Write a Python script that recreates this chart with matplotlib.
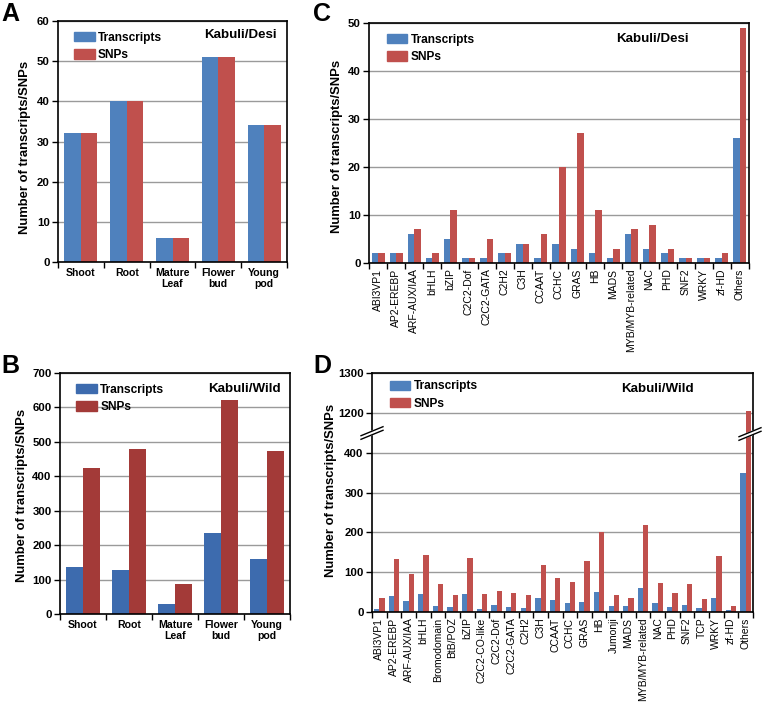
import matplotlib.pyplot as plt
import numpy as np
from matplotlib.lines import Line2D
from matplotlib.patches import Polygon

plt.rcParams['font.family'] = ['Liberation Sans', 'DejaVu Sans']

# panel A / B: tissues
tissues = ["Shoot", "Root", "Mature\nLeaf", "Flower\nbud", "Young\npod"]
desi_tr = [32, 40, 6, 51, 34]
desi_snp = [32, 40, 6, 51, 34]
wild_tr = [137, 127, 28, 236, 159]
wild_snp = [423, 480, 88, 622, 473]

# panel C: TF families Kabuli/Desi
fam_c = ["ABI3VP1", "AP2-EREBP", "ARF-AUX/IAA", "bHLH", "bZIP", "C2C2-Dof",
         "C2C2-GATA", "C2H2", "C3H", "CCAAT", "CCHC", "GRAS", "HB", "MADS",
         "MYB/MYB-related", "NAC", "PHD", "SNF2", "WRKY", "zf-HD", "Others"]
fam_c_tr = [2, 2, 6, 1, 5, 1, 1, 2, 4, 1, 4, 3, 2, 1, 6, 3, 2, 1, 1, 1, 26]
fam_c_snp = [2, 2, 7, 2, 11, 1, 5, 2, 4, 6, 20, 27, 11, 3, 7, 8, 3, 1, 1, 2, 49]

# panel D: TF families Kabuli/Wild
fam_d = ["ABI3VP1", "AP2-EREBP", "ARF-AUX/IAA", "bHLH", "Bromodomain", "BtB/POZ",
         "bZIP", "C2C2-CO-like", "C2C2-Dof", "C2C2-GATA", "C2H2", "C3H", "CCAAT",
         "CCHC", "GRAS", "HB", "Jumonji", "MADS", "MYB/MYB-related", "NAC", "PHD",
         "SNF2", "TCP", "WRKY", "zf-HD", "Others"]
fam_d_tr = [8, 39, 28, 45, 14, 12, 44, 8, 18, 12, 10, 34, 29, 22, 25, 50, 14, 14,
            61, 23, 12, 17, 10, 35, 5, 349]
fam_d_snp = [35, 134, 96, 144, 70, 42, 135, 44, 52, 48, 42, 117, 85, 76, 128, 200,
             43, 35, 219, 74, 49, 71, 32, 142, 14, 1204]

BLUE, RED = "#4F81BD", "#C0504D"
BLUE2, RED2 = "#3D6BAE", "#A33A38"
W, H = 764, 705
bw = 0.36
YLAB = "Number of transcripts/SNPs"


def fig_rect(l, r, t, b):
    return [l / W, 1 - b / H, (r - l) / W, (b - t) / H]


def style(ax, n, labels, ylim, step, xfs, xweight, rot):
    x = np.arange(n)
    ax.set_xlim(-0.5, n - 0.5)
    ax.set_ylim(*ylim)
    ax.set_yticks(np.arange(ylim[0], ylim[1] + 1, step))
    ax.set_xticks(x)
    ax.set_xticklabels(labels, fontsize=xfs, fontweight=xweight, rotation=rot,
                       linespacing=1.15)
    ax.set_xticks(np.arange(-0.5, n, 1.0), minor=True)
    ax.tick_params(axis='x', which='major', length=0, pad=4)
    ax.tick_params(axis='x', which='minor', length=4, width=1, direction='out')
    ax.tick_params(axis='y', length=4, width=1, direction='out', labelsize=8.2, pad=2)
    for t in ax.get_yticklabels():
        t.set_fontweight('bold')
    ax.yaxis.grid(True, color='#9a9a9a', lw=1)
    ax.set_axisbelow(True)
    for s in ax.spines.values():
        s.set_linewidth(1.2)


def legend(ax, cb, cr, anchor):
    h = [plt.Rectangle((0, 0), 1, 1, color=cb), plt.Rectangle((0, 0), 1, 1, color=cr)]
    ax.legend(h, ["Transcripts", "SNPs"], loc='upper left', bbox_to_anchor=anchor,
              frameon=False, prop={'weight': 'bold', 'size': 8.6}, handlelength=1.7,
              handleheight=0.8, handletextpad=0.3, labelspacing=0.45, borderaxespad=0)


def ylabel(px, py):
    fig.text(px / W, 1 - py / H, YLAB, rotation=90, ha='center', va='center',
             fontsize=9.4, fontweight='bold')


def title(ax, fx, fy, s):
    ax.text(fx, fy, s, transform=ax.transAxes, ha='center', va='center',
            fontsize=9.6, fontweight='bold')


fig = plt.figure(figsize=(W / 100, H / 100), dpi=100)

# A
axA = fig.add_axes(fig_rect(58, 287, 21, 262))
x = np.arange(len(tissues))
axA.bar(x - bw / 2, desi_tr, bw, color=BLUE)
axA.bar(x + bw / 2, desi_snp, bw, color=RED)
style(axA, len(tissues), tissues, (0, 60), 10, 7.6, 'bold', 0)
ylabel(25, 147)
legend(axA, BLUE, RED, (0.05, 0.975))
title(axA, 0.795, 0.94, "Kabuli/Desi")

# B
axB = fig.add_axes(fig_rect(60, 290, 373, 614))
axB.bar(x - bw / 2, wild_tr, bw, color=BLUE2)
axB.bar(x + bw / 2, wild_snp, bw, color=RED2)
style(axB, len(tissues), tissues, (0, 700), 100, 7.6, 'bold', 0)
ylabel(22, 495)
legend(axB, BLUE2, RED2, (0.05, 0.975))
title(axB, 0.80, 0.934, "Kabuli/Wild")

# C
axC = fig.add_axes(fig_rect(369, 749, 23, 263))
xc = np.arange(len(fam_c))
axC.bar(xc - bw / 2, fam_c_tr, bw, color=BLUE)
axC.bar(xc + bw / 2, fam_c_snp, bw, color=RED)
style(axC, len(fam_c), fam_c, (0, 50), 10, 7.5, 'normal', 90)
ylabel(337, 146)
legend(axC, BLUE, RED, (0.035, 0.975))
title(axC, 0.747, 0.933, "Kabuli/Desi")

# D: broken axis
axD = fig.add_axes(fig_rect(372, 753, 435, 612))
axD2 = fig.add_axes(fig_rect(372, 753, 373, 435))
xd = np.arange(len(fam_d))
for a in (axD, axD2):
    a.bar(xd - bw / 2, fam_d_tr, bw, color=BLUE)
    a.bar(xd + bw / 2, fam_d_snp, bw, color=RED)
style(axD, len(fam_d), fam_d, (0, 400), 100, 7.5, 'normal', 90)
axD.set_ylim(0, 445)
style(axD2, len(fam_d), [""] * len(fam_d), (1200, 1300), 100, 7.5, 'normal', 0)
axD2.set_ylim(1145, 1300)
axD2.tick_params(axis='x', which='both', bottom=False, labelbottom=False)
axD.spines['top'].set_visible(False)
axD2.spines['bottom'].set_visible(False)
ylabel(331, 490)
legend(axD2, BLUE, RED, (0.035, 0.96))
title(axD2, 0.748, 0.74, "Kabuli/Wild")

# break marks
for cx, cy in [(372, 433), (750, 434)]:
    dx, dy, g = 11, 4.5, 1.8
    p = [(cx - dx, cy + dy + g), (cx + dx, cy - dy + g), (cx + dx, cy - dy - g), (cx - dx, cy + dy - g)]
    fig.add_artist(Polygon([(a / W, 1 - b / H) for a, b in p], closed=True,
                           transform=fig.transFigure, color='white', zorder=5))
    for s in (g, -g):
        fig.add_artist(Line2D([(cx - dx) / W, (cx + dx) / W],
                              [1 - (cy + dy + s) / H, 1 - (cy - dy + s) / H],
                              color='black', lw=1, zorder=6))

# panel letters
for lab, px, py in [("A", 10, 14), ("B", 10, 366), ("C", 322, 14), ("D", 322, 366)]:
    fig.text(px / W, 1 - py / H, lab, fontsize=18, fontweight='bold', ha='center', va='center')

fig.savefig("out.png", dpi=100)
